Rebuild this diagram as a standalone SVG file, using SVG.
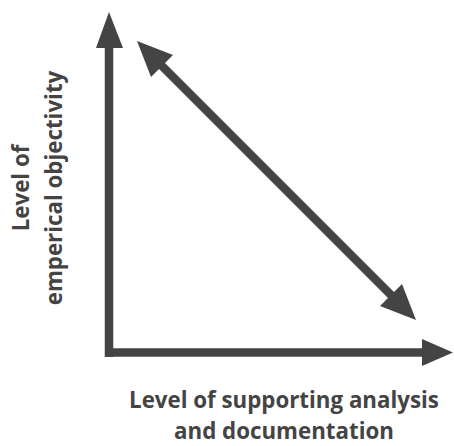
<svg xmlns="http://www.w3.org/2000/svg" width="454" height="446" viewBox="0 0 454 446">
<style>
.ax{stroke:#444;stroke-width:8.5;fill:none}
.hd{fill:#444}
.lbl{font-family:"Open Sans","Noto Sans",sans-serif;font-weight:700;font-size:22.3px;fill:#444;text-anchor:middle}
</style>
<rect width="454" height="446" fill="#fff"/>
<g id="connectors">
<path class="ax" d="M109,46 V357"/>
<polygon class="hd" points="109,12 96,48 123,48"/>
<path class="ax" d="M105,352.5 H424"/>
<polygon class="hd" points="453,352.5 422,339 422,366"/>
<path class="ax" d="M155,59 L398,302"/>
<polygon class="hd" points="137,41 173,55 151,77"/>
<polygon class="hd" points="416,320 402,284 380,306"/>
</g>
<g id="label-y">
<text class="lbl" transform="translate(29,188) rotate(-90)">Level of</text>
<text class="lbl" transform="translate(62,188) rotate(-90)">emperical objectivity</text>
</g>
<g id="label-x">
<text class="lbl" x="284" y="408">Level of supporting analysis</text>
<text class="lbl" x="284" y="439">and documentation</text>
</g>
</svg>
